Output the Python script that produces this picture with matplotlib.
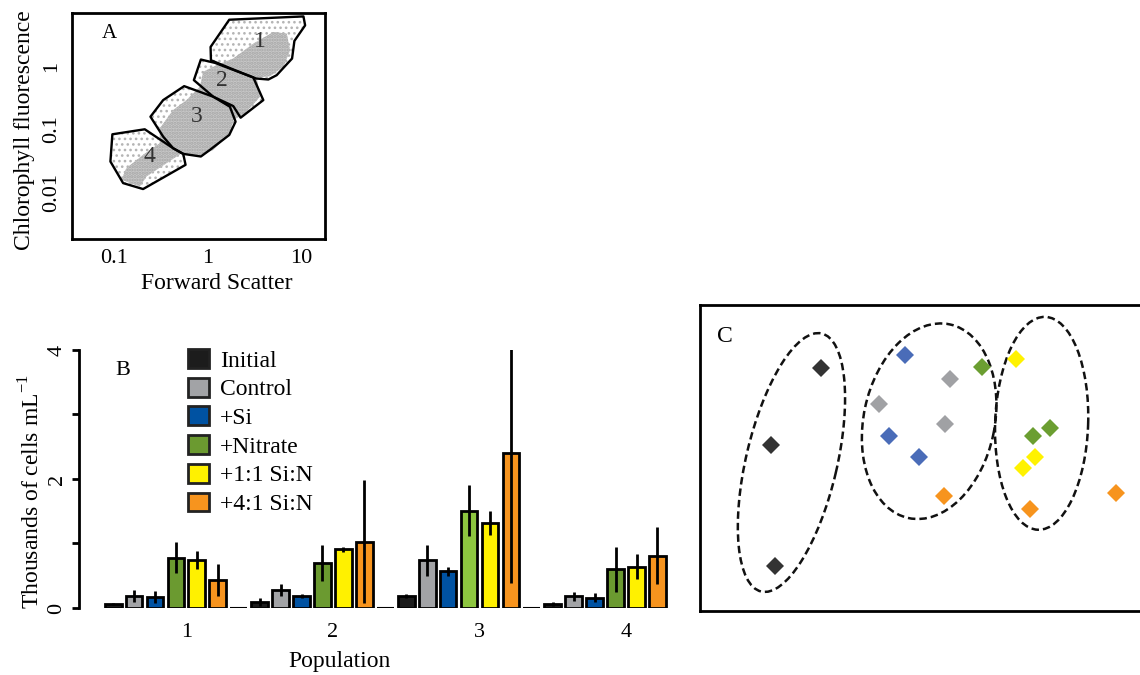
import numpy as np
import matplotlib.pyplot as plt
from matplotlib.patches import Polygon, Ellipse, Patch

plt.rcParams['font.family'] = ['Liberation Serif', 'DejaVu Serif']
plt.rcParams['mathtext.fontset'] = 'custom'
plt.rcParams['mathtext.rm'] = 'Liberation Serif'

# ---------------- A: flow cytometry gates (log10 units) ----------------
gate1_fsc = [0.234, 1.029, 1.047, 0.932, 0.907, 0.742, 0.653, 0.521, 0.277, 0.038, 0.034]
gate1_chl = [0.753, 0.806, 0.663, 0.414, 0.133, -0.133, -0.202, -0.186, -0.042, 0.106, 0.318]
gate2_fsc = [-0.070, 0.080, 0.492, 0.599, 0.356, 0.277, 0.063, -0.145]
gate2_chl = [0.117, 0.064, -0.170, -0.531, -0.812, -0.626, -0.477, -0.212]
gate3_fsc = [-0.249, 0.063, 0.241, 0.302, 0.234, 0.027, -0.070, -0.259, -0.367, -0.474, -0.610, -0.474]
gate3_chl = [-0.308, -0.477, -0.637, -0.875, -1.088, -1.326, -1.432, -1.390, -1.300, -1.114, -0.796, -0.531]
gate4_fsc = [-1.018, -0.671, -0.367, -0.259, -0.234, -0.689, -0.903, -1.039]
gate4_chl = [-1.077, -0.997, -1.300, -1.390, -1.565, -1.952, -1.857, -1.512]
gate_names = ['1', '2', '3', '4']
gate_label_fsc = [0.563, 0.152, -0.116, -0.617]
gate_label_chl = [0.398, -0.212, -0.796, -1.432]
# outline of the dense part of the event cloud
cloud_fsc = [-0.921, -0.868, -0.689, -0.510, -0.510, -0.367, -0.224, -0.080, -0.045, 0.098,
             0.277, 0.492, 0.707, 0.850, 0.886, 0.814, 0.671, 0.528, 0.563, 0.403,
             0.277, 0.242, 0.063, -0.080, -0.277, -0.438, -0.653, -0.725]
cloud_chl = [-1.804, -1.618, -1.406, -1.220, -0.981, -0.690, -0.531, -0.318, -0.080, 0.027,
             0.133, 0.371, 0.557, 0.531, 0.265, 0.000, -0.149, -0.170, -0.477, -0.743,
             -0.849, -1.061, -1.326, -1.422, -1.379, -1.538, -1.751, -1.910]

# ---------------- B: cell counts (thousands of cells per mL) ----------------
populations = ['1', '2', '3', '4']
treatments = ['Initial', 'Control', '+Si', '+Nitrate', '+1:1 Si:N', '+4:1 Si:N']
initial = [0.06, 0.09, 0.19, 0.06]
initial_err = [0.02, 0.06, 0.03, 0.03]
control = [0.19, 0.28, 0.74, 0.18]
control_err = [0.09, 0.09, 0.24, 0.07]
plus_si = [0.17, 0.19, 0.57, 0.16]
plus_si_err = [0.10, 0.03, 0.07, 0.07]
plus_nitrate = [0.78, 0.70, 1.51, 0.60]
plus_nitrate_err = [0.24, 0.28, 0.40, 0.35]
si_n_11 = [0.74, 0.91, 1.32, 0.64]
si_n_11_err = [0.14, 0.04, 0.19, 0.19]
si_n_41 = [0.43, 1.03, 2.41, 0.81]
si_n_41_err = [0.25, 0.96, 2.03, 0.44]

colors = ['#1c1c1c', '#a2a3a6', '#0052a2', '#6b9a30', '#fff100', '#f7941e']

# ---------------- C: ordination (NMDS-like axes) ----------------
nmds_groups = ['Initial', 'Control', '+Si', '+Nitrate', '+1:1 Si:N', '+4:1 Si:N']
nmds_x = {
    'Initial': [-0.99, -1.49, -1.45],
    'Control': [0.30, -0.41, 0.25],
    '+Si': [-0.15, -0.31, -0.01],
    '+Nitrate': [0.62, 1.13, 1.30],
    '+1:1 Si:N': [0.96, 1.15, 1.03],
    '+4:1 Si:N': [0.24, 1.10, 1.96],
}
nmds_y = {
    'Initial': [0.92, 0.15, -1.06],
    'Control': [0.81, 0.56, 0.36],
    '+Si': [1.05, 0.24, 0.03],
    '+Nitrate': [0.93, 0.24, 0.32],
    '+1:1 Si:N': [1.01, 0.03, -0.08],
    '+4:1 Si:N': [-0.36, -0.49, -0.33],
}
nmds_colors = ['#333333', '#a0a1a4', '#4a6cb8', '#6b9e31', '#fff200', '#f7941e']
# cluster ellipses: centre x, centre y, long axis, short axis, angle
ell_cx = [-1.285, 0.092, 1.217]
ell_cy = [-0.025, 0.388, 0.367]
ell_long = [2.65, 1.98, 2.13]
ell_short = [0.91, 1.31, 0.93]
ell_angle = [76.8, 78.0, 88.0]

fig = plt.figure(figsize=(11.4, 6.75), dpi=100)

# ===== Panel A =====
axA = fig.add_axes([0.0632, 0.6459, 0.2219, 0.3348])
axA.set_xscale('log')
axA.set_yscale('log')
axA.set_xlim(10 ** -1.45, 10 ** 1.26)
axA.set_ylim(10 ** -2.75, 10 ** 0.86)

gates = [(gate1_fsc, gate1_chl), (gate2_fsc, gate2_chl),
         (gate3_fsc, gate3_chl), (gate4_fsc, gate4_chl)]
with plt.rc_context({'hatch.linewidth': 1.1}):
    for gx, gy in gates:
        xy = np.column_stack([10 ** np.array(gx), 10 ** np.array(gy)])
        axA.add_patch(Polygon(xy, closed=True, facecolor='none', edgecolor='#b4b4b4',
                              linewidth=0, hatch='...', zorder=1))
with plt.rc_context({'hatch.linewidth': 1.6}):
    cxy = np.column_stack([10 ** np.array(cloud_fsc), 10 ** np.array(cloud_chl)])
    axA.add_patch(Polygon(cxy, closed=True, facecolor='#c9c9c9', edgecolor='#a6a6a6',
                          linewidth=0, hatch='.....', zorder=2))
for gx, gy in gates:
    xy = np.column_stack([10 ** np.array(gx), 10 ** np.array(gy)])
    axA.add_patch(Polygon(xy, closed=True, facecolor='none', edgecolor='black',
                          linewidth=1.7, joinstyle='round', zorder=3))
for name, lx, ly in zip(gate_names, gate_label_fsc, gate_label_chl):
    axA.text(10 ** lx, 10 ** ly, name, fontsize=17, ha='center', va='center',
             color='#333333', zorder=4)

axA.set_xticks([0.1, 1, 10], ['0.1', '1', '10'])
axA.set_yticks([0.01, 0.1, 1], ['0.01', '0.1', '1'])
axA.xaxis.set_minor_locator(plt.NullLocator())
axA.yaxis.set_minor_locator(plt.NullLocator())
axA.tick_params(axis='both', length=0, labelsize=16)
axA.tick_params(axis='x', pad=7)
axA.tick_params(axis='y', pad=8)
for lbl in axA.get_yticklabels():
    lbl.set_rotation(90)
    lbl.set_va('center')
for s in axA.spines.values():
    s.set_linewidth(2)
axA.set_xlabel('Forward Scatter', fontsize=17)
axA.xaxis.set_label_coords(0.573, -0.15)
axA.set_ylabel('Chlorophyll fluorescence', fontsize=17)
axA.yaxis.set_label_coords(-0.148, 0.48)
axA.text(0.146, 0.91, 'A', transform=axA.transAxes, fontsize=15,
         ha='center', va='center')

# ===== Panel B =====
axB = fig.add_axes([0.0693, 0.0993, 0.5175, 0.3822])
values = [initial, control, plus_si, plus_nitrate, si_n_11, si_n_41]
errors = [initial_err, control_err, plus_si_err, plus_nitrate_err, si_n_11_err, si_n_41_err]
slots = len(treatments) + 1
bar_w = 0.8
for i, (lab, vals, errs) in enumerate(zip(treatments, values, errors)):
    x = np.arange(len(populations)) * slots + i + 0.5
    cols = [colors[i]] * len(populations)
    if lab == '+Nitrate':
        cols[2] = '#8dc63f'
    axB.bar(x, vals, width=bar_w, color=cols, edgecolor='black', linewidth=2,
            label=lab, zorder=2)
    axB.errorbar(x, vals, yerr=errs, fmt='none', ecolor='black', elinewidth=2,
                 capsize=0, zorder=3)
# empty spacer slot after each of the first three groups
spacer_x = np.arange(len(populations) - 1) * slots + slots - 0.5
axB.bar(spacer_x, np.zeros(len(spacer_x)), width=bar_w, color='none',
        edgecolor='black', linewidth=1.5, zorder=2)

axB.set_xlim(-1.13, len(populations) * slots - 0.95)
axB.set_ylim(0, 4)
axB.set_xticks(np.arange(len(populations)) * slots + 4.0, populations)
axB.set_yticks([0, 2, 4])
axB.set_yticks([1, 3], minor=True)
axB.tick_params(axis='x', length=0, pad=11, labelsize=16)
axB.tick_params(axis='y', which='both', length=5, width=2, pad=4, labelsize=16)
for lbl in axB.get_yticklabels():
    lbl.set_rotation(90)
    lbl.set_va('center')
for side in ['top', 'right', 'bottom']:
    axB.spines[side].set_visible(False)
axB.spines['left'].set_linewidth(2)
axB.set_ylabel('Thousands of cells mL$^{-1}$', fontsize=17)
axB.yaxis.set_label_coords(-0.058, 0.45)
axB.set_xlabel('Population', fontsize=17)
axB.xaxis.set_label_coords(0.442, -0.165)
axB.text(0.0745, 0.922, 'B', transform=axB.transAxes, fontsize=16,
         ha='center', va='center')

handles = [Patch(facecolor=c, edgecolor='#222222', linewidth=2) for c in colors]
axB.legend(handles, treatments, loc='upper left', bbox_to_anchor=(0.185, 1.004),
           frameon=False, fontsize=17, handlelength=0.9, handleheight=0.85,
           handletextpad=0.45, labelspacing=0.26, borderpad=0, borderaxespad=0)

# ===== Panel C =====
axC = fig.add_axes([0.614, 0.0948, 0.3877, 0.4533])
axC.set_xlim(-2.20, 2.22)
axC.set_ylim(-1.51, 1.55)
for cx, cy, w, h, a in zip(ell_cx, ell_cy, ell_long, ell_short, ell_angle):
    axC.add_patch(Ellipse((cx, cy), w, h, angle=a, facecolor='none',
                          edgecolor='#111111', linewidth=1.8,
                          linestyle=(0, (3.0, 1.6)), zorder=2))
for g, c in zip(nmds_groups, nmds_colors):
    axC.plot(nmds_x[g], nmds_y[g], linestyle='none', marker='D', markersize=9,
             color=c, markeredgewidth=0, zorder=3)
axC.set_xticks([])
axC.set_yticks([])
for s in axC.spines.values():
    s.set_linewidth(2)
axC.text(0.0566, 0.896, 'C', transform=axC.transAxes, fontsize=17,
         ha='center', va='center')

fig.savefig('out.png', dpi=100)
